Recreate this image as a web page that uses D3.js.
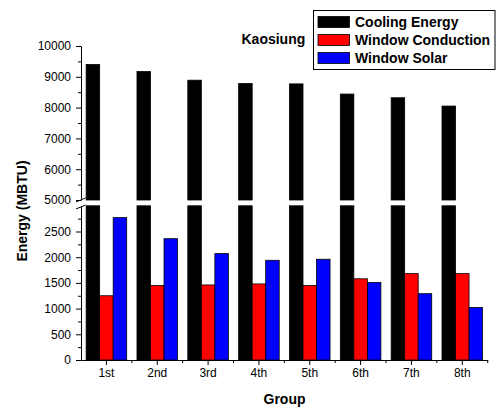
<!DOCTYPE html>
<html>
<head>
<meta charset="utf-8">
<script src="https://cdn.jsdelivr.net/npm/d3@7"></script>
<style>
  body { margin: 0; background: #fff; }
  svg { display: block; font-family: "Liberation Sans", Arial, sans-serif; }
</style>
</head>
<body>
<svg id="chart" width="496" height="410"></svg>
<script>
const groups = ["1st", "2nd", "3rd", "4th", "5th", "6th", "7th", "8th"];
const seriesNames = ["Cooling Energy", "Window Conduction", "Window Solar"];
const seriesColors = ["#000000", "#ff0000", "#0000ff"];
const cooling = [9400, 9170, 8890, 8780, 8770, 8440, 8320, 8050];
const conduction = [1250, 1450, 1460, 1480, 1450, 1580, 1680, 1680];
const solar = [2770, 2360, 2070, 1940, 1960, 1510, 1290, 1020];
const upperTicks = [5000, 6000, 7000, 8000, 9000, 10000];
const lowerTicks = [0, 500, 1000, 1500, 2000, 2500];
const title = "Kaosiung";
const xTitle = "Group";
const yTitle = "Energy (MBTU)";

const seriesValues = [cooling, conduction, solar];
const svg = d3.select("#chart");

const left = 81, right = 487.7;
const x = d3.scaleBand().domain(groups).range([left, right]).padding(0);
const x1 = d3.scaleBand().domain(seriesNames).range([0, x.bandwidth()])
  .paddingInner(0).paddingOuter(0.38);
const yLow = d3.scaleLinear().domain([0, 3000]).range([360, 205.8]);
const yHigh = d3.scaleLinear().domain([5000, 10000]).range([200, 46]);

// bars
groups.forEach((g, gi) => {
  seriesNames.forEach((s, si) => {
    const v = seriesValues[si][gi];
    const bx = x(g) + x1(s);
    const w = x1.bandwidth();
    const vl = Math.min(v, 3000);
    svg.append("rect")
      .attr("x", bx).attr("y", yLow(vl))
      .attr("width", w).attr("height", yLow(0) - yLow(vl))
      .attr("fill", seriesColors[si]).attr("stroke", "#000").attr("stroke-width", 0.8);
    if (v > 5000) {
      svg.append("rect")
        .attr("x", bx).attr("y", yHigh(v))
        .attr("width", w).attr("height", yHigh(5000) - yHigh(v))
        .attr("fill", seriesColors[si]).attr("stroke", "#000").attr("stroke-width", 0.8);
    }
  });
});

// y axes
const upperMinor = d3.range(5500, 10000, 1000);
const lowerMinor = d3.range(250, 3000, 500);
svg.append("g").attr("transform", `translate(${left},0)`)
  .call(d3.axisLeft(yHigh).tickValues(upperTicks).tickSize(5).tickSizeOuter(0).tickPadding(5).tickFormat(d3.format("d")));
const axUm = svg.append("g").attr("transform", `translate(${left},0)`)
  .call(d3.axisLeft(yHigh).tickValues(upperMinor).tickSize(3).tickSizeOuter(0).tickFormat(""));
svg.append("g").attr("transform", `translate(${left},0)`)
  .call(d3.axisLeft(yLow).tickValues(lowerTicks).tickSize(5).tickSizeOuter(0).tickPadding(5).tickFormat(d3.format("d")));
const axLm = svg.append("g").attr("transform", `translate(${left},0)`)
  .call(d3.axisLeft(yLow).tickValues(lowerMinor).tickSize(3).tickSizeOuter(0).tickFormat(""));
axUm.select(".domain").remove();
axLm.select(".domain").remove();

// x axis
svg.append("g").attr("transform", "translate(0,360)")
  .call(d3.axisBottom(x).tickSize(5).tickSizeOuter(0).tickPadding(3));
const xMinor = groups.map(g => x(g) + x.bandwidth());
svg.append("g").selectAll("line").data(xMinor).join("line")
  .attr("x1", d => d).attr("x2", d => d).attr("y1", 360).attr("y2", 363)
  .attr("stroke", "#000");

svg.selectAll(".tick text").attr("font-size", 12).attr("fill", "#000")
  .attr("font-family", "'Liberation Sans', Arial, sans-serif");
svg.selectAll(".domain, .tick line").attr("stroke", "#000").attr("stroke-width", 1);

// break marks
[0, 7].forEach(dy => {
  svg.append("line")
    .attr("x1", 76).attr("y1", 202 + dy).attr("x2", 85.5).attr("y2", 198 + dy)
    .attr("stroke", "#000").attr("stroke-width", 1);
});

// titles
svg.append("text").attr("x", 241.5).attr("y", 44).attr("font-size", 14)
  .attr("font-weight", "bold").text(title);
svg.append("text").attr("x", 284.5).attr("y", 404).attr("font-size", 14)
  .attr("font-weight", "bold").attr("text-anchor", "middle").text(xTitle);
svg.append("text").attr("transform", "translate(27,211) rotate(-90)")
  .attr("font-size", 14).attr("font-weight", "bold").attr("text-anchor", "middle").text(yTitle);

// legend
const lg = svg.append("g");
lg.append("rect").attr("x", 313.5).attr("y", 10.5).attr("width", 181.5).attr("height", 59)
  .attr("fill", "#fff").attr("stroke", "#000").attr("stroke-width", 1);
seriesNames.forEach((s, i) => {
  const yy = 16.5 + i * 18;
  lg.append("rect").attr("x", 318).attr("y", yy).attr("width", 31.5).attr("height", 11)
    .attr("fill", seriesColors[i]).attr("stroke", "#000").attr("stroke-width", 0.8);
  lg.append("text").attr("x", 355).attr("y", yy + 10).attr("font-size", 14)
    .attr("font-weight", "bold").text(s);
});
</script>
</body>
</html>
